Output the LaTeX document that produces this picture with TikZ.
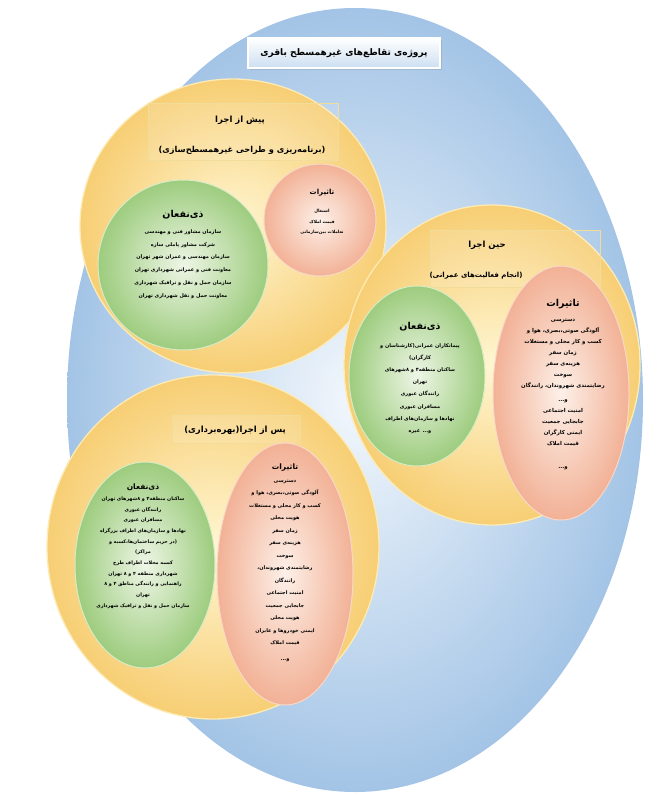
\documentclass[tikz,border=0pt]{standalone}
\usepackage{fontspec}
\newfontfamily\farsi[Script=Arabic]{DejaVu Sans}
\TeXXeTstate=1
\newcommand{\RL}[1]{\beginR #1\endR}
\usetikzlibrary{shadows}
\definecolor{bluein}{HTML}{F2F7FC}
\definecolor{blueout}{HTML}{A3C4E6}
\definecolor{yin}{HTML}{FFF6D2}
\definecolor{yout}{HTML}{F7CE74}
\definecolor{yrim}{HTML}{FDEBB5}
\definecolor{gin}{HTML}{EEF6E6}
\definecolor{gout}{HTML}{9DCC7E}
\definecolor{grim}{HTML}{D7EBC6}
\definecolor{pin}{HTML}{FDF0E8}
\definecolor{pout}{HTML}{F2B196}
\definecolor{prim}{HTML}{F8D8C8}
\definecolor{boxline}{HTML}{F2DC9A}
\begin{document}
\begin{tikzpicture}[x=1pt,y=-1pt,
  every node/.style={font=\farsi\bfseries, inner sep=0pt, text=black},
  yellowdisc/.style={inner color=yin, outer color=yout, draw=yrim, line width=1.3pt},
  greendisc/.style={inner color=gin, outer color=gout, draw=grim, line width=1pt},
  pinkdisc/.style={inner color=pin, outer color=pout, draw=prim, line width=1pt},
  phasebox/.style={draw=boxline, line width=0.6pt, fill=white, fill opacity=0.12},
  phasetext/.style={font=\farsi\bfseries\fontsize{#1}{9}\selectfont},
  headtext/.style={font=\farsi\bfseries\fontsize{#1}{10}\selectfont},
  bodytext/.style 2 args={align=center, font=\farsi\bfseries\fontsize{#1}{#2}\selectfont},
  titlebox/.style={top color=white, bottom color=blueout!55, draw=white, line width=1.2pt,
    minimum width=192pt, minimum height=30pt, drop shadow={opacity=0.25, shadow xshift=1.5pt, shadow yshift=-1.5pt},
    font=\farsi\bfseries\fontsize{9}{11}\selectfont}
]
\useasboundingbox (0,0) rectangle (658,795);
% background ellipse
\shade[inner color=bluein, outer color=blueout] (355,400) ellipse (288 and 392);
% title
\node[titlebox] (title) at (344,53) {\RL{پروژه‌ی تقاطع‌های غیرهمسطح باقری}};

% ---------- phase 1 ----------
\shade[yellowdisc] (233,226) ellipse (153 and 147);
\draw[phasebox] (148,103) rectangle (338,160);
\node[phasetext=8.5] (p1a) at (240,120) {\RL{پیش از اجرا}};
\node[phasetext=8.2] (p1b) at (242,150) {\RL{(برنامه‌ریزی و طراحی غیرهمسطح‌سازی)}};
\shade[greendisc] (183,265) ellipse (85 and 85);
\node[headtext=9.5] (g1h) at (183,215) {\RL{ذی‌نفعان}};
\node[bodytext={5}{12.7}, anchor=north] (g1b) at (183,229.5) {%
\RL{سازمان مشاور فنی و مهندسی}\\
\RL{شرکت مشاور پاملی سازه}\\
\RL{سازمان مهندسی و عمران شهر تهران}\\
\RL{معاونت فنی و عمرانی شهرداری تهران}\\
\RL{سازمان حمل و نقل و ترافیک شهرداری}\\
\RL{معاونت حمل و نقل شهرداری تهران}};
\shade[pinkdisc] (320,220) ellipse (56 and 56);
\node[headtext=7] (r1h) at (322,193) {\RL{تاثیرات}};
\node[bodytext={4.3}{10.5}, anchor=north] (r1b) at (322,209.5) {%
\RL{اشتغال}\\
\RL{قیمت املاک}\\
\RL{تعاملات بین‌سازمانی}};

% ---------- phase 2 ----------
\shade[yellowdisc] (492,365) ellipse (148 and 160);
\draw[phasebox] (430,230) rectangle (600,287);
\node[phasetext=8.5] (p2a) at (487,245) {\RL{حین اجرا}};
\node[phasetext=7] (p2b) at (476,276) {\RL{(انجام فعالیت‌های عمرانی)}};
\shade[greendisc] (417,376) ellipse (68 and 90);
\node[headtext=9.5] (g2h) at (420,327) {\RL{ذی‌نفعان}};
\node[bodytext={5}{12.1}, anchor=north] (g2b) at (420,343.5) {%
\RL{پیمانکاران عمرانی(کارشناسان و}\\
\RL{کارگران)}\\
\RL{ساکنان منطقه۴ و ۸شهرهای}\\
\RL{تهران}\\
\RL{رانندگان عبوری}\\
\RL{مسافران عبوری}\\
\RL{نهادها و سازمان‌های اطراف}\\
\RL{و... غیره}};
\shade[pinkdisc] (561,393) ellipse (68 and 127);
\node[headtext=9.5] (r2h) at (563,304) {\RL{تاثیرات}};
\node[bodytext={5.4}{11}, anchor=north] (r2b) at (563,319) {%
\RL{دسترسی}\\
\RL{آلودگی صوتی،بصری، هوا و}\\
\RL{کسب و کار محلی و مستغلات}\\
\RL{زمان سفر}\\
\RL{هزینه‌ی سفر}\\
\RL{سوخت}\\
\RL{رضایتمندی شهروندان، رانندگان}\\[3pt]
\RL{و...}\\
\RL{امنیت اجتماعی}\\
\RL{جابجایی جمعیت}\\
\RL{ایمنی کارگران}\\
\RL{قیمت املاک}\\[12pt]
\RL{و...}};

% ---------- phase 3 ----------
\shade[yellowdisc] (213,547) ellipse (166 and 172);
\draw[phasebox] (172,415) rectangle (300,443);
\node[phasetext=8.5] (p3a) at (235,430) {\RL{پس از اجرا(بهره‌برداری)}};
\shade[greendisc] (145,565) ellipse (70 and 103);
\node[headtext=7.5] (g3h) at (143,487) {\RL{ذی‌نفعان}};
\node[bodytext={4.8}{10.7}, anchor=north] (g3b) at (143,496.5) {%
\RL{ساکنان منطقه۴ و ۸شهرهای تهران}\\
\RL{رانندگان عبوری}\\
\RL{مسافران عبوری}\\
\RL{نهادها و سازمان‌های اطراف بزرگراه}\\
\RL{(در حریم ساختمان‌ها،کسبه و}\\
\RL{مراکز)}\\
\RL{کسبه محلات اطراف طرح}\\
\RL{شهرداری منطقه ۴ و ۸ تهران}\\
\RL{راهنمایی و رانندگی مناطق ۴ و ۸}\\
\RL{تهران}\\
\RL{سازمان حمل و نقل و ترافیک شهرداری}};
\shade[pinkdisc] (285,574) ellipse (68 and 131);
\node[headtext=7.5] (r3h) at (285,468) {\RL{تاثیرات}};
\node[bodytext={5}{12.5}, anchor=north] (r3b) at (285,479.5) {%
\RL{دسترسی}\\
\RL{آلودگی صوتی،بصری، هوا و}\\
\RL{کسب و کار محلی و مستغلات}\\
\RL{هویت محلی}\\
\RL{زمان سفر}\\
\RL{هزینه‌ی سفر}\\
\RL{سوخت}\\
\RL{رضایتمندی شهروندان،}\\
\RL{رانندگان}\\
\RL{امنیت اجتماعی}\\
\RL{جابجایی جمعیت}\\
\RL{هویت محلی}\\
\RL{ایمنی خودروها و عابران}\\
\RL{قیمت املاک}\\[3pt]
\RL{و...}};
\end{tikzpicture}
\end{document}
